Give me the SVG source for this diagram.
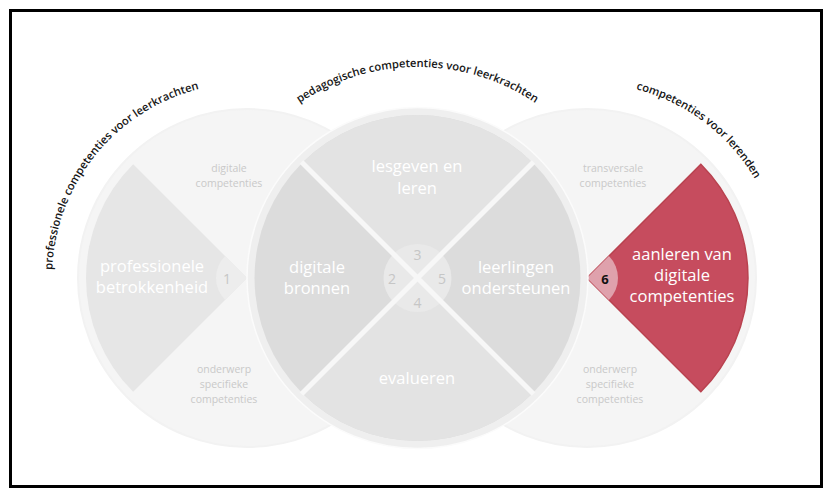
<svg xmlns="http://www.w3.org/2000/svg" width="832" height="497" viewBox="0 0 832 497">
<defs>
<style>
.arc{font-family:"Open Sans","Noto Sans","DejaVu Sans",sans-serif;font-size:11.2px;font-weight:600;fill:#161616}
.big{font-family:"Open Sans","Noto Sans","DejaVu Sans",sans-serif;font-size:16.5px;fill:#ffffff;text-anchor:middle}
.small{font-family:"Open Sans","Noto Sans","DejaVu Sans",sans-serif;font-size:10.5px;fill:#c9c9c9;text-anchor:middle}
.num{font-family:"Open Sans","Noto Sans","DejaVu Sans",sans-serif;font-size:14px;fill:#c6c6c6;text-anchor:middle}
.side{fill:#f5f5f5;stroke:#f2f2f2;stroke-width:2}
</style>
<path id="arcL" d="M52 278 A195 195 0 0 1 247 83"/>
<path id="arcC" d="M206.5 278 A211 211 0 0 1 628.5 278"/>
<path id="arcR" d="M587 83 A195 195 0 0 1 782 278"/>
</defs>
<rect x="0" y="0" width="832" height="497" fill="#ffffff"/>

<g id="circle-professional">
<circle class="side" cx="247" cy="278" r="169"/>
<path d="M247 278 L133.16 164.16 A161 161 0 0 0 133.16 391.84 Z" fill="#e6e6e6"/>
<path d="M247 278 L225.08 256.08 A31 31 0 0 0 225.08 299.92 Z" fill="#ededed"/>
<text class="big" x="152" y="272">professionele</text>
<text class="big" x="152" y="293">betrokkenheid</text>
<text class="num" x="227" y="284">1</text>
<text class="small" x="229" y="172">digitale</text>
<text class="small" x="229" y="187">competenties</text>
<text class="small" x="224" y="373">onderwerp</text>
<text class="small" x="224" y="388">specifieke</text>
<text class="small" x="224" y="403">competenties</text>
</g>

<g id="circle-learners">
<circle class="side" cx="587" cy="278" r="169"/>
<path d="M587 278 L700.84 164.16 A161 161 0 0 1 700.84 391.84 Z" fill="#c64c5e" stroke="#b9424f" stroke-width="1.5" stroke-linejoin="round"/>
<path d="M587 278 L608.92 256.08 A31 31 0 0 1 608.92 299.92 Z" fill="#dfa1ac"/>
<text class="big" x="682" y="260">aanleren van</text>
<text class="big" x="682" y="281">digitale</text>
<text class="big" x="682" y="302">competenties</text>
<text x="605" y="284" font-family="'Open Sans','Noto Sans','DejaVu Sans',sans-serif" font-size="13" font-weight="700" fill="#111111" text-anchor="middle">6</text>
<text class="small" x="613" y="172">transversale</text>
<text class="small" x="613" y="187">competenties</text>
<text class="small" x="610" y="373">onderwerp</text>
<text class="small" x="610" y="388">specifieke</text>
<text class="small" x="610" y="403">competenties</text>
</g>

<g id="circle-pedagogical">
<circle cx="417.5" cy="278" r="170.5" fill="#efefef" stroke="#fbfbfb" stroke-width="1.5"/>
<circle cx="417.5" cy="278" r="163" fill="#dcdcdc"/>
<path d="M417.5 278 L302.24 162.74 A163 163 0 0 1 532.76 162.74 Z" fill="#e3e3e3"/>
<path d="M417.5 278 L532.76 393.26 A163 163 0 0 1 302.24 393.26 Z" fill="#e3e3e3"/>
<circle cx="417.5" cy="278" r="34" fill="#e9e9e9"/>
<path d="M301.5 162 L533.5 394 M533.5 162 L301.5 394" stroke="#f7f7f7" stroke-width="5"/>
<text class="big" x="417" y="172">lesgeven en</text>
<text class="big" x="417" y="194">leren</text>
<text class="big" x="317" y="273">digitale</text>
<text class="big" x="317" y="294">bronnen</text>
<text class="big" x="516" y="273">leerlingen</text>
<text class="big" x="516" y="294">ondersteunen</text>
<text class="big" x="417" y="384">evalueren</text>
<text class="num" x="417.5" y="259.5">3</text>
<text class="num" x="392" y="284">2</text>
<text class="num" x="442" y="284">5</text>
<text class="num" x="417.5" y="308">4</text>
</g>

<g id="arc-labels">
<text class="arc"><textPath href="#arcL" startOffset="133" text-anchor="middle">professionele competenties voor leerkrachten</textPath></text>
<text class="arc"><textPath href="#arcC" startOffset="50%" text-anchor="middle">pedagogische competenties voor leerkrachten</textPath></text>
<text class="arc"><textPath href="#arcR" startOffset="126" text-anchor="middle">competenties voor lerenden</textPath></text>
</g>

<g id="connectors"></g>

<rect x="10.5" y="10.5" width="811" height="476" fill="none" stroke="#000000" stroke-width="3"/>
</svg>
